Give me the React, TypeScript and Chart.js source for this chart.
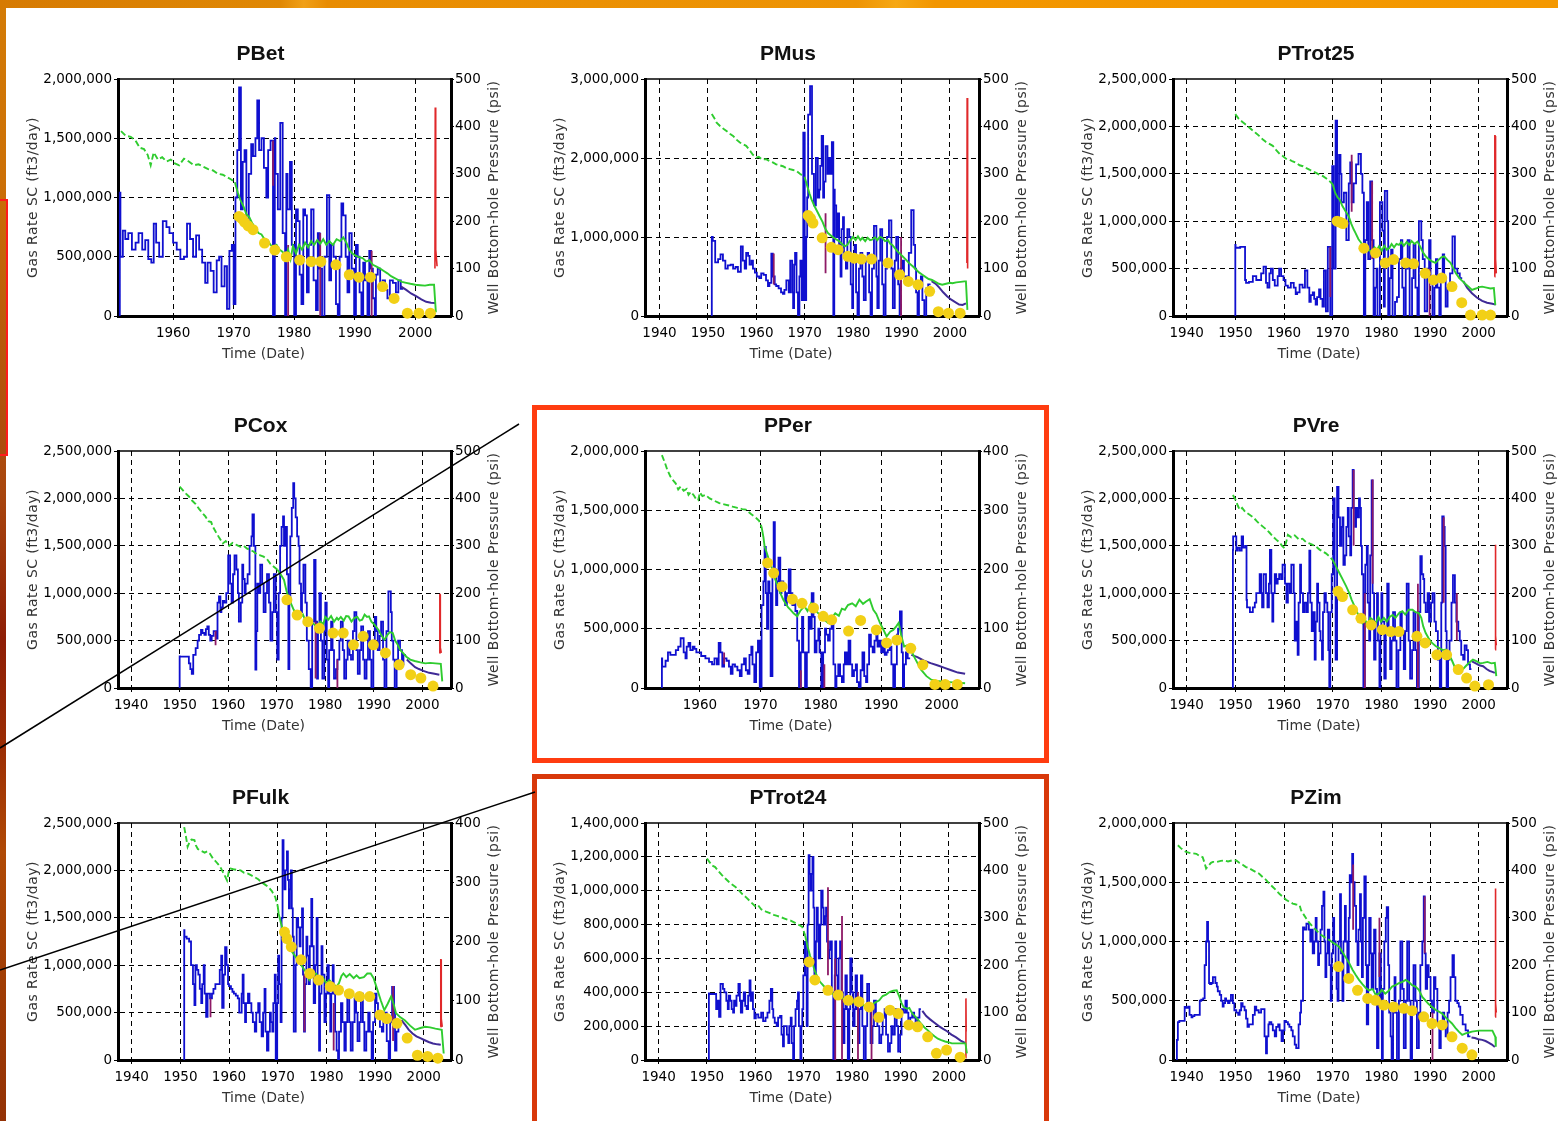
import React, { useEffect, useRef } from 'react';
import { Chart, registerables } from 'chart.js';

Chart.register(...registerables);
Chart.defaults.font.family = "'DejaVu Sans', sans-serif";

type Pt = [number, number];
type Spike = [number, number, number]; // year, low, high (thousand ft3/day)

// ---------- tick labels ----------
const X_TICKS = [1940, 1950, 1960, 1970, 1980, 1990, 2000];

// ---------- data (gas rates in thousand ft3/day, pressures in psi) ----------
const PBET_GAS: Pt[] = [[1951.2,0],[1951.3,1040],[1951.7,500],[1952.1,720],[1952.6,650],[1953.2,700],[1953.8,560],[1954.3,620],[1954.9,700],[1955.4,560],[1955.9,640],[1956.4,480],[1956.8,450],[1957.2,780],[1957.7,620],[1958.3,500],[1958.9,800],[1959.4,750],[1960.0,700],[1960.6,620],[1961.2,560],[1961.8,480],[1962.3,500],[1962.8,780],[1963.3,650],[1963.8,500],[1964.3,680],[1964.8,560],[1965.3,450],[1965.7,280],[1966.2,450],[1966.7,380],[1967.2,200],[1967.6,470],[1968.0,500],[1968.5,250],[1968.9,420],[1969.3,60],[1969.7,550],[1970.0,600],[1970.3,100],[1970.6,1000],[1970.9,1400],[1971.2,1930],[1971.5,900],[1971.8,1300],[1972.1,1400],[1972.5,800],[1972.9,1200],[1973.2,1450],[1973.6,1350],[1973.9,1500],[1974.2,1820],[1974.6,1400],[1975.0,1500],[1975.4,1250],[1975.7,1000],[1976.1,1400],[1976.5,1480],[1976.8,0],[1976.9,1500],[1977.3,1200],[1977.7,900],[1978.1,1630],[1978.5,700],[1978.7,0],[1978.9,1200],[1979.3,900],[1979.6,1300],[1980.0,600],[1980.3,0],[1980.6,900],[1980.9,800],[1981.2,350],[1981.5,100],[1981.8,900],[1982.1,850],[1982.4,200],[1982.8,600],[1983.2,900],[1983.6,300],[1983.9,50],[1984.2,700],[1984.6,400],[1985.0,0],[1985.4,500],[1985.8,1020],[1986.1,300],[1986.5,600],[1986.9,500],[1987.2,100],[1987.5,0],[1987.8,500],[1988.1,950],[1988.5,850],[1988.8,500],[1989.1,200],[1989.5,700],[1989.9,400],[1990.2,0],[1990.5,600],[1990.8,500],[1991.1,200],[1991.4,0],[1991.7,450],[1992.1,300],[1992.4,0],[1992.7,550],[1993.0,400],[1993.3,150],[1993.5,0],[1993.8,350],[1994.2,400],[1994.6,250],[1995.0,300],[1995.4,220],[1995.8,150],[1996.3,300],[1996.8,280],[1997.2,200],[1997.6,300],[1998.0,230]];
const PBET_TAIL: Pt[] = [[1997.6,250],[1998.5,220],[1999.3,190],[2000.2,165],[2001.0,140],[2001.8,120],[2002.6,112],[2003.3,110]];
const PBET_BHP: Pt[] = [[1951.4,390],[1952.2,380],[1953.0,378],[1953.8,370],[1954.5,355],[1955.2,352],[1955.8,340],[1956.3,318],[1956.8,345],[1957.5,330],[1958.2,335],[1958.9,326],[1959.6,330],[1960.3,322],[1961.0,318],[1961.8,332],[1962.6,326],[1963.4,318],[1964.2,320],[1965.0,315],[1965.8,310],[1966.6,307],[1967.4,300],[1968.2,298],[1968.9,293],[1969.6,288],[1970.2,282],[1970.7,260],[1971.1,245],[1971.6,232],[1972.1,215],[1972.6,208],[1973.1,195],[1973.6,185],[1974.1,175],[1974.6,172],[1975.1,162],[1975.6,160],[1976.1,150],[1976.6,145],[1977.1,150],[1977.6,140],[1978.1,135],[1978.6,125],[1979.0,140],[1979.4,120],[1979.8,148],[1980.3,132],[1980.8,150],[1981.3,140],[1981.8,155],[1982.3,145],[1982.8,158],[1983.3,150],[1983.8,160],[1984.3,152],[1984.8,162],[1985.3,150],[1985.8,158],[1986.4,150],[1987.0,162],[1987.6,158],[1988.1,166],[1988.6,155],[1989.1,140],[1989.6,132],[1990.1,128],[1990.7,124],[1991.3,122],[1991.9,115],[1992.4,118],[1993.0,108],[1993.6,104],[1994.2,100],[1994.8,95],[1995.4,90],[1996.0,84],[1996.6,80],[1997.2,76],[1997.8,72],[1998.5,70],[1999.2,68],[2000.0,66],[2000.8,65],[2001.6,64],[2002.4,66],[2003.1,66],[2003.4,8]];
const PBET_MEAS: Pt[] = [[1970.9,210],[1971.4,205],[1971.8,198],[1972.4,190],[1973.2,182],[1975.1,154],[1976.8,139],[1978.7,125],[1980.9,118],[1982.8,115],[1984.4,115],[1986.9,108],[1989.1,87],[1990.7,82],[1992.6,82],[1994.6,62],[1996.5,37],[1998.7,6],[2000.6,6],[2002.5,6]];
const PBET_RED: Pt[] = [[2003.25,100],[2003.3,440],[2003.35,440],[2003.4,140],[2003.6,105]];
const PBET_SPIKES: Spike[] = [[1976.5,1100,1480],[1979.0,0,600],[1984.3,0,700],[1992.8,0,550]];

const PMUS_GAS: Pt[] = [[1950.8,0],[1951.0,1000],[1951.5,950],[1952.1,680],[1952.6,720],[1953.1,780],[1953.6,700],[1954.1,600],[1954.7,640],[1955.2,650],[1955.7,600],[1956.2,620],[1956.8,560],[1957.2,880],[1957.6,700],[1957.9,600],[1958.3,800],[1958.6,760],[1959.0,650],[1959.3,700],[1959.7,600],[1960.1,550],[1960.6,500],[1961.0,480],[1961.5,540],[1962.0,520],[1962.4,450],[1962.7,380],[1963.1,420],[1963.4,790],[1963.8,500],[1964.1,400],[1964.6,380],[1965.1,350],[1965.5,300],[1965.8,280],[1966.2,330],[1966.7,450],[1967.0,300],[1967.4,700],[1967.6,300],[1967.8,100],[1968.0,650],[1968.3,800],[1968.6,300],[1968.9,0],[1969.1,500],[1969.4,700],[1969.7,200],[1970.0,2320],[1970.3,200],[1970.5,1000],[1970.7,1500],[1971.1,2550],[1971.5,2910],[1971.9,1800],[1972.3,1400],[1972.7,2000],[1973.0,1500],[1973.2,1600],[1973.5,1900],[1973.8,2280],[1974.0,1500],[1974.3,1700],[1974.7,2150],[1975.0,1800],[1975.3,2000],[1975.6,1800],[1975.9,2200],[1976.1,0],[1976.2,1600],[1976.5,1400],[1976.8,1000],[1977.1,1300],[1977.4,900],[1977.6,500],[1977.9,1100],[1978.1,1250],[1978.5,800],[1978.8,600],[1979.2,1100],[1979.5,1000],[1979.8,400],[1980.0,100],[1980.3,700],[1980.6,900],[1980.9,300],[1981.2,0],[1981.5,600],[1981.9,800],[1982.2,500],[1982.6,200],[1983.0,700],[1983.3,800],[1983.6,300],[1983.9,0],[1984.3,600],[1984.8,1140],[1985.0,500],[1985.3,100],[1985.6,700],[1986.0,1100],[1986.3,400],[1986.7,0],[1987.0,600],[1987.4,1000],[1987.9,1210],[1988.2,600],[1988.6,100],[1988.9,700],[1989.3,1000],[1989.6,400],[1989.8,0],[1990.2,600],[1990.5,700],[1991.0,500],[1991.5,500],[1992.0,800],[1992.5,1340],[1992.8,900],[1993.0,600],[1993.3,300],[1993.6,0],[1994.0,400],[1994.3,500],[1994.7,200],[1995.1,0],[1995.5,350],[1996.0,400]];
const PMUS_TAIL: Pt[] = [[1996.2,440],[1997.0,410],[1997.8,360],[1998.6,300],[1999.4,250],[2000.2,210],[2001.0,180],[2001.9,145],[2002.6,140],[2003.3,160]];
const PMUS_BHP: Pt[] = [[1950.8,426],[1951.3,418],[1951.8,408],[1952.5,401],[1953.2,395],[1953.9,390],[1954.6,384],[1955.2,380],[1955.9,372],[1956.6,366],[1957.3,362],[1957.9,359],[1958.6,350],[1959.3,340],[1960.0,334],[1960.5,336],[1961.2,330],[1962.0,331],[1962.7,327],[1963.4,324],[1964.1,320],[1964.8,318],[1965.5,316],[1966.2,312],[1966.9,310],[1967.6,308],[1968.3,306],[1969.0,300],[1969.6,296],[1970.0,292],[1970.5,275],[1971.0,258],[1971.4,246],[1972.0,232],[1972.5,222],[1973.1,210],[1973.7,198],[1974.2,185],[1974.8,175],[1975.4,170],[1976.0,165],[1976.6,161],[1977.1,158],[1977.7,152],[1978.3,147],[1978.8,150],[1979.3,158],[1980.0,167],[1980.5,160],[1981.0,168],[1981.5,160],[1981.9,165],[1982.5,158],[1983.0,165],[1983.5,160],[1983.9,161],[1984.5,166],[1985.0,160],[1985.5,167],[1986.0,165],[1986.6,158],[1987.2,160],[1987.7,152],[1988.1,150],[1988.7,142],[1989.3,135],[1989.8,130],[1990.2,126],[1990.8,120],[1991.5,112],[1992.3,105],[1993.0,98],[1993.6,92],[1994.3,87],[1995.0,82],[1995.6,78],[1996.3,76],[1997.0,72],[1997.7,68],[1998.4,66],[1999.2,68],[2000.0,70],[2000.5,69],[2001.3,71],[2002.2,72],[2003.0,73],[2003.3,73],[2003.6,13]];
const PMUS_MEAS: Pt[] = [[1970.7,212],[1971.2,206],[1971.7,196],[1973.6,165],[1975.5,145],[1976.9,140],[1978.9,126],[1980.2,122],[1981.7,120],[1983.8,120],[1987.2,112],[1989.6,87],[1991.4,73],[1993.4,66],[1995.8,52],[1997.6,9],[1999.7,6],[2002.1,6]];
const PMUS_RED: Pt[] = [[2003.5,112],[2003.55,460],[2003.6,112],[2003.7,100]];
const PMUS_SPIKES: Spike[] = [[1963.6,400,790],[1974.3,540,1300],[1989.9,0,1000]];

const PTROT25_GAS: Pt[] = [[1950.0,0],[1950.05,750],[1951.0,720],[1952.0,730],[1952.2,380],[1952.8,350],[1953.6,360],[1954.3,420],[1954.8,380],[1955.3,380],[1955.8,450],[1956.3,520],[1956.6,350],[1957.0,300],[1957.3,450],[1957.7,500],[1958.1,380],[1958.7,320],[1959.0,420],[1959.4,500],[1959.9,420],[1960.3,380],[1960.8,320],[1961.4,300],[1962.0,350],[1962.4,300],[1962.7,230],[1963.2,250],[1963.8,330],[1964.3,300],[1964.8,480],[1965.2,300],[1965.5,150],[1965.9,220],[1966.2,250],[1966.5,180],[1966.8,120],[1967.2,200],[1967.5,280],[1967.9,180],[1968.2,100],[1968.6,480],[1969.0,50],[1969.5,730],[1969.9,0],[1970.2,1580],[1970.6,500],[1970.9,2060],[1971.3,1000],[1971.6,1700],[1971.8,1500],[1972.3,1200],[1972.8,1300],[1973.3,800],[1973.6,1400],[1973.9,1620],[1974.3,1200],[1974.8,1400],[1975.3,1600],[1975.8,1710],[1976.1,1500],[1976.4,1300],[1976.7,0],[1977.0,800],[1977.3,1200],[1977.7,600],[1978.1,1420],[1978.4,800],[1978.7,0],[1979.0,300],[1979.2,500],[1979.7,0],[1980.2,1200],[1980.5,900],[1980.7,100],[1981.2,1320],[1981.4,1000],[1981.7,0],[1982.0,400],[1982.3,700],[1982.8,0],[1983.2,150],[1983.6,200],[1984.0,600],[1984.3,800],[1984.6,300],[1985.0,0],[1985.4,500],[1985.8,800],[1986.3,0],[1986.6,400],[1987.0,750],[1987.4,300],[1987.7,0],[1988.2,1000],[1988.5,800],[1988.9,600],[1989.4,50],[1989.8,500],[1990.1,800],[1990.5,400],[1990.9,0],[1991.2,300],[1991.5,600],[1991.9,300],[1992.2,0],[1992.6,400],[1992.9,650],[1993.2,400],[1993.6,100],[1994.1,300],[1994.6,450],[1995.1,840],[1995.6,500],[1996.1,450],[1996.6,400]];
const PTROT25_TAIL: Pt[] = [[1996.8,370],[1997.6,300],[1998.6,240],[1999.6,195],[2000.7,160],[2001.7,140],[2002.8,130],[2003.5,120]];
const PTROT25_BHP: Pt[] = [[1950.0,426],[1950.7,416],[1951.4,410],[1952.0,405],[1952.8,398],[1953.5,392],[1954.2,386],[1954.9,380],[1955.6,373],[1956.3,367],[1957.0,363],[1957.7,359],[1958.4,350],[1959.1,342],[1959.8,337],[1960.4,332],[1961.1,330],[1961.8,326],[1962.5,323],[1963.2,318],[1963.9,316],[1964.6,312],[1965.2,309],[1965.9,305],[1966.6,302],[1967.3,298],[1968.0,295],[1968.7,290],[1969.4,284],[1970.0,278],[1970.5,260],[1971.0,250],[1971.4,246],[1972.0,232],[1972.7,220],[1973.3,210],[1973.8,195],[1974.3,183],[1974.7,175],[1975.3,162],[1975.8,155],[1976.4,147],[1977.0,140],[1977.6,138],[1978.1,136],[1978.6,145],[1979.1,140],[1979.5,147],[1980.1,138],[1980.6,148],[1981.1,140],[1981.6,143],[1982.1,152],[1982.6,145],[1983.1,152],[1983.6,150],[1984.1,156],[1984.6,148],[1985.2,156],[1985.7,150],[1986.2,158],[1986.8,152],[1987.4,157],[1987.9,148],[1988.5,135],[1989.1,126],[1989.7,120],[1990.4,115],[1991.1,112],[1991.7,118],[1992.3,124],[1992.9,126],[1993.6,118],[1994.2,112],[1994.8,100],[1995.3,90],[1996.0,80],[1996.6,74],[1997.2,68],[1997.9,62],[1998.6,55],[1999.4,58],[2000.1,61],[2000.7,62],[2001.6,60],[2002.4,58],[2003.1,59],[2003.4,23]];
const PTROT25_MEAS: Pt[] = [[1970.9,200],[1971.5,198],[1972.1,195],[1976.4,143],[1978.8,133],[1980.8,112],[1982.5,119],[1985.0,112],[1986.6,110],[1989.0,90],[1990.7,76],[1992.4,80],[1994.5,62],[1996.5,28],[1998.3,2],[2000.7,2],[2002.4,2]];
const PTROT25_RED: Pt[] = [[2003.25,83],[2003.3,380],[2003.35,380],[2003.45,120],[2003.6,90]];
const PTROT25_SPIKES: Spike[] = [[1969.5,200,730],[1973.9,1100,1700],[1978.1,600,1420],[1989.9,0,500]];

const PCOX_GAS: Pt[] = [[1950.0,0],[1950.05,334],[1951.0,330],[1951.9,330],[1952.2,260],[1952.5,200],[1952.8,150],[1953.3,350],[1953.7,420],[1954.0,500],[1954.4,560],[1954.7,614],[1955.1,580],[1955.4,560],[1955.7,620],[1956.0,650],[1956.3,560],[1956.6,500],[1957.0,550],[1957.5,600],[1957.8,520],[1958.1,900],[1958.4,966],[1958.6,800],[1958.9,850],[1959.2,920],[1959.6,900],[1960.0,1000],[1960.4,1400],[1960.7,1100],[1961.0,900],[1961.3,1200],[1961.7,1400],[1962.0,1250],[1962.2,1000],[1962.6,700],[1962.9,900],[1963.1,1300],[1963.4,1150],[1963.6,1000],[1964.0,1100],[1964.4,1200],[1964.8,1500],[1965.0,1600],[1965.3,1830],[1965.6,1500],[1965.8,193],[1966.0,600],[1966.3,1100],[1966.6,1000],[1967.0,1300],[1967.3,1100],[1967.7,800],[1968.0,1000],[1968.4,1200],[1968.7,900],[1969.1,500],[1969.4,800],[1969.8,1200],[1970.1,800],[1970.4,300],[1970.7,1000],[1971.0,1500],[1971.3,1700],[1971.5,1810],[1971.8,1500],[1972.1,1700],[1972.4,1200],[1972.6,200],[1972.8,900],[1973.1,1600],[1973.4,1900],[1973.6,2160],[1973.9,2000],[1974.2,1800],[1974.5,1600],[1974.7,1500],[1975.0,1100],[1975.2,800],[1975.5,1000],[1975.9,1300],[1976.2,900],[1976.6,500],[1977.0,200],[1977.3,0],[1977.7,700],[1978.0,1350],[1978.3,700],[1978.5,100],[1978.8,600],[1979.1,1000],[1979.4,500],[1979.8,100],[1980.0,600],[1980.3,900],[1980.6,300],[1980.8,0],[1981.2,400],[1981.5,700],[1981.8,400],[1982.2,100],[1982.5,200],[1982.9,300],[1983.2,500],[1983.6,700],[1983.9,400],[1984.3,100],[1984.6,300],[1985.0,500],[1985.3,350],[1985.7,300],[1986.0,600],[1986.4,800],[1986.7,400],[1987.1,150],[1987.4,400],[1987.8,650],[1988.1,300],[1988.5,100],[1988.8,300],[1989.2,600],[1989.5,300],[1989.9,0],[1990.2,500],[1990.5,750],[1990.8,600],[1991.2,400],[1991.5,550],[1991.9,700],[1992.2,300],[1992.6,0],[1993.0,600],[1993.5,1020],[1993.7,800],[1994.0,500],[1994.3,300],[1994.7,0],[1995.0,300],[1995.4,500],[1995.8,400],[1996.1,250],[1996.6,350]];
const PCOX_TAIL: Pt[] = [[1996.8,300],[1997.6,260],[1998.5,220],[1999.3,200],[2000.2,180],[2001.4,160],[2002.5,150],[2003.5,140]];
const PCOX_BHP: Pt[] = [[1950.0,425],[1950.6,418],[1951.3,410],[1951.9,404],[1952.6,395],[1953.3,388],[1954.0,378],[1954.7,369],[1955.3,362],[1955.9,352],[1956.5,350],[1956.8,341],[1957.4,330],[1958.1,318],[1958.9,305],[1959.5,310],[1960.2,300],[1960.9,306],[1961.7,302],[1962.5,298],[1963.2,300],[1963.9,294],[1964.5,291],[1965.2,288],[1965.9,282],[1966.6,280],[1967.3,277],[1968.0,272],[1968.7,262],[1969.4,256],[1970.1,250],[1970.8,240],[1971.5,228],[1972.0,205],[1972.5,190],[1972.9,179],[1973.5,165],[1974.2,151],[1974.8,148],[1975.4,155],[1976.0,140],[1976.4,144],[1977.0,138],[1977.6,135],[1978.2,130],[1978.5,132],[1979.0,140],[1979.6,135],[1980.0,150],[1980.6,144],[1981.2,152],[1981.8,140],[1982.4,148],[1982.7,144],[1983.2,150],[1983.8,142],[1984.3,152],[1984.8,151],[1985.4,140],[1986.0,148],[1986.6,150],[1987.1,142],[1987.6,144],[1988.1,155],[1988.6,150],[1989.0,151],[1989.5,140],[1990.0,135],[1990.4,130],[1991.0,122],[1991.6,110],[1992.2,102],[1992.8,112],[1993.3,118],[1993.9,116],[1994.4,100],[1995.0,90],[1995.4,81],[1996.0,74],[1996.7,66],[1997.5,60],[1998.4,57],[1999.6,54],[2000.6,52],[2001.6,53],[2002.7,52],[2003.8,51],[2004.1,14]];
const PCOX_MEAS: Pt[] = [[1972.1,186],[1974.2,154],[1976.4,140],[1978.8,126],[1981.6,116],[1983.7,116],[1985.8,91],[1987.8,109],[1989.9,91],[1992.4,74],[1995.2,49],[1997.6,28],[1999.7,21],[2002.2,4]];
const PCOX_RED: Pt[] = [[2003.5,74],[2003.6,197],[2003.65,197],[2003.7,85],[2003.9,74]];
const PCOX_SPIKES: Spike[] = [[1957.4,450,600],[1978.0,100,700],[1982.5,0,300]];

const PPER_GAS: Pt[] = [[1953.7,0],[1953.75,250],[1954.3,180],[1954.7,230],[1955.1,300],[1955.6,280],[1956.0,280],[1956.4,320],[1956.8,350],[1957.3,420],[1957.6,300],[1957.8,250],[1958.1,350],[1958.4,380],[1958.8,320],[1959.1,350],[1959.4,330],[1959.7,300],[1960.2,300],[1960.9,270],[1961.5,250],[1962.0,220],[1962.4,200],[1962.8,250],[1963.1,200],[1963.4,380],[1963.7,300],[1964.0,180],[1964.4,250],[1964.8,230],[1965.1,180],[1965.4,120],[1965.8,200],[1966.2,180],[1966.6,150],[1966.9,100],[1967.3,200],[1967.6,250],[1967.9,150],[1968.2,120],[1968.5,280],[1968.7,350],[1969.0,200],[1969.3,50],[1969.6,300],[1969.9,400],[1970.2,0],[1970.5,700],[1970.7,900],[1970.9,1190],[1971.1,800],[1971.3,500],[1971.5,900],[1971.7,800],[1972.0,100],[1972.2,1000],[1972.4,1400],[1972.6,1000],[1972.8,700],[1973.0,900],[1973.3,1100],[1973.5,800],[1973.8,900],[1974.1,850],[1974.4,700],[1974.7,800],[1975.0,1000],[1975.3,800],[1975.5,700],[1975.8,750],[1976.1,650],[1976.4,400],[1976.7,0],[1976.9,300],[1977.1,600],[1977.4,300],[1977.7,0],[1978.0,300],[1978.3,600],[1978.5,500],[1978.8,800],[1979.0,600],[1979.3,300],[1979.6,400],[1979.8,500],[1980.1,300],[1980.4,0],[1980.7,300],[1980.9,500],[1981.2,450],[1981.5,400],[1981.8,500],[1982.1,600],[1982.4,200],[1982.6,0],[1982.9,100],[1983.2,200],[1983.5,100],[1983.8,50],[1984.0,200],[1984.3,300],[1984.6,200],[1984.9,400],[1985.2,200],[1985.5,100],[1985.8,150],[1986.0,200],[1986.3,50],[1986.6,0],[1986.9,150],[1987.2,300],[1987.5,100],[1987.7,50],[1988.0,200],[1988.3,450],[1988.6,350],[1988.9,300],[1989.2,400],[1989.4,450],[1989.7,350],[1990.0,400],[1990.3,300],[1990.6,350],[1990.9,280],[1991.1,300],[1991.4,320],[1991.7,350],[1992.0,200],[1992.3,0],[1992.6,200],[1992.8,450],[1993.1,500],[1993.4,646],[1993.6,300],[1993.8,0],[1994.1,200],[1994.4,300],[1994.8,250]];
const PPER_TAIL: Pt[] = [[1995.0,280],[1996.0,260],[1997.1,230],[1998.2,210],[1999.4,190],[2000.5,170],[2001.6,150],[2002.7,130],[2003.9,120]];
const PPER_BHP: Pt[] = [[1953.7,393],[1954.2,380],[1954.6,368],[1955.1,357],[1955.6,350],[1956.0,345],[1956.4,335],[1956.8,340],[1957.3,333],[1957.8,336],[1958.1,326],[1958.5,331],[1959.0,325],[1959.4,318],[1959.7,317],[1960.0,330],[1960.4,324],[1960.9,326],[1961.6,320],[1962.4,316],[1963.2,312],[1964.0,310],[1964.8,308],[1965.4,306],[1966.2,304],[1967.0,302],[1967.6,301],[1968.4,294],[1969.3,287],[1969.8,282],[1970.2,272],[1970.5,255],[1970.7,239],[1971.0,230],[1971.3,220],[1971.6,211],[1972.0,200],[1972.3,188],[1972.7,177],[1973.0,168],[1973.4,158],[1973.8,149],[1974.2,142],[1974.6,136],[1975.0,132],[1975.5,126],[1976.1,121],[1976.6,130],[1977.3,138],[1977.8,130],[1978.4,143],[1978.9,135],[1979.4,128],[1980.1,121],[1980.6,115],[1981.2,110],[1981.8,118],[1982.4,126],[1983.0,122],[1983.5,134],[1984.0,132],[1984.5,140],[1985.2,143],[1985.8,138],[1986.4,149],[1987.0,142],[1987.5,146],[1988.1,150],[1988.7,132],[1989.2,125],[1989.8,110],[1990.3,100],[1990.9,87],[1991.5,95],[1992.0,98],[1992.5,104],[1992.9,110],[1993.3,90],[1993.8,70],[1994.3,72],[1994.9,65],[1995.6,50],[1996.6,31],[1997.5,20],[1998.3,14],[1999.2,12],[2000.0,11],[2001.3,10],[2002.6,9],[2003.9,8]];
const PPER_MEAS: Pt[] = [[1971.2,211],[1972.2,194],[1973.6,171],[1975.3,150],[1976.9,143],[1978.8,135],[1980.4,121],[1981.8,115],[1984.6,96],[1986.6,114],[1989.2,98],[1990.9,76],[1992.6,81],[1994.9,67],[1996.9,39],[1998.9,6],[2000.6,6],[2002.6,6]];
const PPER_RED: Pt[] = [];
const PPER_SPIKES: Spike[] = [[1964.0,200,300],[1976.7,0,150],[1980.6,0,200]];

const PVRE_GAS: Pt[] = [[1949.5,0],[1949.55,1457],[1950.2,1600],[1950.5,1450],[1950.9,1480],[1951.3,1450],[1951.6,1600],[1952.0,1480],[1952.3,1500],[1952.4,930],[1953.0,850],[1953.6,800],[1954.0,850],[1954.3,900],[1955.0,1000],[1955.3,1200],[1955.5,1000],[1955.8,850],[1956.3,1200],[1956.6,1000],[1956.9,850],[1957.1,1100],[1957.4,1457],[1957.6,1000],[1957.8,700],[1958.1,1000],[1958.4,1200],[1958.7,1100],[1959.0,1150],[1959.4,1200],[1959.7,1150],[1960.2,1300],[1960.5,1100],[1960.8,900],[1961.2,1100],[1961.5,1000],[1962.0,1300],[1962.2,1000],[1962.5,500],[1962.8,700],[1963.0,350],[1963.3,900],[1963.5,1300],[1963.9,1000],[1964.2,800],[1964.6,900],[1964.9,800],[1965.2,1000],[1965.4,1450],[1965.7,900],[1966.0,600],[1966.3,800],[1966.5,300],[1966.8,700],[1967.0,1100],[1967.3,900],[1967.5,600],[1967.8,500],[1968.0,300],[1968.3,800],[1968.6,1000],[1968.9,900],[1969.1,800],[1969.3,400],[1969.5,0],[1969.8,800],[1970.1,1200],[1970.4,2000],[1970.6,1000],[1970.9,300],[1971.2,2120],[1971.5,1800],[1971.8,1500],[1972.0,1700],[1972.2,1800],[1972.5,1300],[1972.8,1400],[1973.1,1700],[1973.3,1900],[1973.6,1600],[1973.8,1400],[1974.1,1900],[1974.3,2300],[1974.6,1900],[1974.8,1700],[1975.1,1900],[1975.4,1800],[1975.6,2000],[1975.8,1900],[1976.0,1500],[1976.3,1200],[1976.6,0],[1976.7,1000],[1977.0,1300],[1977.2,1500],[1977.5,900],[1977.7,500],[1978.0,1400],[1978.2,2190],[1978.5,1000],[1978.8,300],[1979.1,700],[1979.3,1000],[1979.6,500],[1979.8,0],[1980.0,600],[1980.2,1000],[1980.6,700],[1980.9,100],[1981.2,600],[1981.5,1100],[1981.8,600],[1982.1,200],[1982.4,500],[1982.8,800],[1983.1,500],[1983.5,0],[1983.9,400],[1984.2,800],[1984.6,600],[1984.9,200],[1985.2,600],[1985.6,1100],[1985.9,500],[1986.3,100],[1986.6,400],[1987.0,800],[1987.3,400],[1987.7,0],[1988.0,800],[1988.3,1390],[1988.6,1200],[1988.8,1150],[1989.1,900],[1989.5,800],[1989.8,1000],[1990.2,700],[1990.5,900],[1990.9,1000],[1991.2,700],[1991.6,600],[1992.0,300],[1992.3,0],[1992.5,900],[1992.8,1810],[1993.0,1700],[1993.2,1500],[1993.4,600],[1993.7,0],[1994.0,300],[1994.4,500],[1994.7,900],[1995.1,1190],[1995.4,900],[1995.8,700],[1996.1,600],[1996.4,500],[1996.8,350],[1997.1,300],[1997.5,450],[1997.8,400],[1998.2,250],[1998.5,200]];
const PVRE_TAIL: Pt[] = [[1998.6,280],[1999.4,260],[2000.1,240],[2000.9,230],[2001.6,200],[2002.2,180],[2002.8,170],[2003.3,160]];
const PVRE_BHP: Pt[] = [[1949.5,407],[1950.0,398],[1950.5,385],[1950.9,376],[1951.4,380],[1952.0,372],[1953.0,365],[1953.7,360],[1954.4,352],[1955.0,346],[1955.6,341],[1956.3,335],[1957.0,328],[1957.7,320],[1958.4,313],[1959.0,308],[1959.6,300],[1960.1,295],[1960.5,310],[1960.8,323],[1961.5,318],[1962.2,322],[1963.1,313],[1963.8,315],[1964.5,308],[1965.2,305],[1965.9,302],[1966.6,298],[1967.3,292],[1968.0,288],[1968.6,284],[1969.3,278],[1970.0,270],[1970.7,256],[1971.4,242],[1972.1,228],[1972.8,214],[1973.4,200],[1973.9,186],[1974.5,172],[1975.0,160],[1975.6,148],[1976.1,137],[1976.6,145],[1977.2,132],[1977.7,148],[1978.2,144],[1978.8,135],[1979.4,150],[1979.9,140],[1980.5,148],[1981.1,140],[1981.7,150],[1982.3,154],[1982.9,148],[1983.6,158],[1984.3,162],[1984.9,155],[1985.6,165],[1986.4,165],[1987.0,160],[1987.7,158],[1988.2,148],[1988.6,130],[1989.1,116],[1989.7,105],[1990.4,95],[1991.2,88],[1991.9,84],[1992.6,80],[1993.3,81],[1993.9,70],[1994.5,58],[1995.0,46],[1995.8,42],[1996.7,39],[1997.5,48],[1998.2,55],[1998.8,60],[1999.6,56],[2000.3,52],[2000.9,53],[2001.8,55],[2002.6,52],[2003.3,53],[2003.6,25]];
const PVRE_MEAS: Pt[] = [[1971.1,204],[1972.0,193],[1974.1,165],[1975.8,147],[1977.9,133],[1980.2,123],[1981.9,119],[1983.6,119],[1987.3,109],[1989.0,95],[1991.4,70],[1993.4,70],[1995.8,39],[1997.5,21],[1999.2,4],[2002.0,7]];
const PVRE_RED: Pt[] = [[2003.35,81],[2003.4,302],[2003.45,302],[2003.5,110],[2003.6,90]];
const PVRE_SPIKES: Spike[] = [[1974.3,1500,2300],[1978.2,1100,2200],[1976.6,0,1000],[1992.8,900,1800],[1987.5,0,1100],[1995.5,500,1000]];

const PFULK_GAS: Pt[] = [[1950.8,0],[1950.85,1370],[1951.3,1300],[1951.8,1280],[1952.2,1250],[1952.6,1000],[1952.9,800],[1953.1,579],[1953.4,1000],[1953.7,950],[1954.0,900],[1954.3,750],[1954.5,600],[1954.8,800],[1955.0,1000],[1955.3,700],[1955.6,456],[1956.1,700],[1956.5,650],[1956.8,700],[1957.2,750],[1957.5,800],[1958.1,800],[1958.4,950],[1958.6,1100],[1958.9,550],[1959.2,900],[1959.5,1190],[1959.8,1000],[1960.0,800],[1960.4,780],[1960.7,750],[1961.0,720],[1961.4,700],[1961.8,680],[1962.1,650],[1962.6,500],[1962.8,700],[1963.0,900],[1963.3,600],[1963.5,400],[1963.9,600],[1964.2,700],[1964.6,600],[1964.9,500],[1965.3,400],[1965.6,300],[1966.0,500],[1966.3,600],[1966.7,400],[1967.0,250],[1967.3,500],[1967.5,750],[1967.8,300],[1968.1,100],[1968.4,300],[1968.6,500],[1968.9,400],[1969.1,300],[1969.4,600],[1969.6,900],[1969.9,0],[1970.1,600],[1970.3,1100],[1970.6,800],[1970.8,400],[1971.0,1500],[1971.2,2320],[1971.4,2000],[1971.6,1800],[1971.9,2000],[1972.1,2200],[1972.3,1900],[1972.5,1600],[1972.7,1800],[1972.9,2000],[1973.1,1600],[1973.3,1300],[1973.7,300],[1973.9,1000],[1974.2,1500],[1974.5,1400],[1974.7,1200],[1975.0,1400],[1975.2,1600],[1975.4,900],[1975.6,300],[1975.9,800],[1976.1,1300],[1976.4,1100],[1976.6,800],[1976.9,1200],[1977.1,1700],[1977.4,1200],[1977.7,600],[1978.0,1000],[1978.2,1500],[1978.5,800],[1978.7,100],[1979.0,700],[1979.2,1200],[1979.6,900],[1979.9,400],[1980.2,700],[1980.5,1000],[1980.8,700],[1981.0,300],[1981.3,700],[1981.5,1000],[1981.8,700],[1982.1,300],[1982.4,100],[1982.6,0],[1983.0,300],[1983.3,600],[1983.7,400],[1984.0,100],[1984.3,400],[1984.7,650],[1985.0,400],[1985.4,100],[1985.8,400],[1986.1,650],[1986.4,500],[1986.8,200],[1987.1,400],[1987.5,700],[1987.8,400],[1988.2,100],[1988.6,300],[1988.9,500],[1989.3,300],[1989.6,0],[1990.0,400],[1990.3,700],[1990.6,600],[1991.0,450],[1991.4,350],[1991.7,300],[1992.1,400],[1992.4,500],[1992.8,200],[1993.1,0],[1993.5,400],[1993.9,772],[1994.1,500],[1994.4,100],[1994.8,300],[1995.2,400]];
const PFULK_TAIL: Pt[] = [[1995.4,420],[1996.2,370],[1996.9,320],[1997.7,280],[1998.5,250],[1999.3,230],[2000.1,211],[2001.0,190],[2001.9,175],[2002.8,165],[2003.5,160]];
const PFULK_BHP: Pt[] = [[1950.8,393],[1951.2,375],[1951.5,360],[1951.9,368],[1952.3,372],[1952.9,371],[1953.2,362],[1953.6,356],[1954.0,354],[1954.5,352],[1955.0,350],[1955.5,352],[1956.1,348],[1956.7,340],[1957.3,335],[1957.8,330],[1958.2,326],[1958.7,318],[1959.2,310],[1959.6,303],[1960.0,320],[1960.3,323],[1960.9,322],[1961.6,321],[1962.4,320],[1963.1,316],[1963.8,315],[1964.5,312],[1965.2,309],[1966.0,305],[1966.7,300],[1967.4,296],[1968.1,292],[1968.8,285],[1969.5,275],[1970.0,260],[1970.2,247],[1970.7,230],[1971.3,213],[1971.8,200],[1972.3,191],[1973.0,182],[1973.7,174],[1974.4,165],[1975.1,157],[1975.8,148],[1976.5,135],[1977.2,145],[1977.9,146],[1978.5,135],[1979.2,140],[1980.0,129],[1980.6,135],[1981.3,128],[1982.1,124],[1982.6,130],[1983.1,142],[1983.5,146],[1984.1,140],[1984.8,145],[1985.6,138],[1986.2,143],[1986.8,138],[1987.7,140],[1988.4,146],[1989.1,146],[1989.7,138],[1990.1,128],[1990.5,118],[1991.2,100],[1991.9,84],[1992.6,95],[1993.3,107],[1993.8,95],[1994.3,79],[1995.2,72],[1996.1,67],[1997.2,58],[1998.2,51],[1999.3,54],[2000.3,56],[2001.3,55],[2002.4,53],[2003.7,51],[2004.1,11]];
const PFULK_MEAS: Pt[] = [[1971.4,216],[1971.9,205],[1972.8,191],[1974.8,169],[1976.6,146],[1978.4,135],[1980.8,124],[1982.5,118],[1984.7,112],[1986.8,107],[1988.9,107],[1991.0,76],[1992.4,70],[1994.5,62],[1996.6,37],[1998.7,8],[2000.8,6],[2002.9,3]];
const PFULK_RED: Pt[] = [[2003.45,56],[2003.5,169],[2003.55,169],[2003.6,70],[2003.8,56]];
const PFULK_SPIKES: Spike[] = [[1956.2,450,650],[1975.5,300,900],[1981.5,100,600],[1993.7,200,780]];

const PTROT24_GAS: Pt[] = [[1950.4,0],[1950.45,393],[1951.2,390],[1951.9,390],[1952.2,300],[1952.5,350],[1952.8,255],[1953.3,450],[1953.6,420],[1954.0,400],[1954.3,350],[1954.5,300],[1954.8,380],[1955.1,350],[1955.4,300],[1955.6,280],[1955.9,350],[1956.1,320],[1956.5,380],[1956.8,450],[1957.0,350],[1957.3,280],[1957.6,350],[1957.9,400],[1958.2,320],[1958.5,300],[1958.8,380],[1959.0,470],[1959.2,350],[1959.5,400],[1959.8,300],[1960.1,246],[1960.6,270],[1961.2,250],[1961.6,280],[1962.1,230],[1962.5,250],[1962.9,280],[1963.2,350],[1963.5,420],[1963.7,300],[1964.0,250],[1964.4,220],[1964.7,200],[1965.1,250],[1965.4,260],[1965.7,150],[1965.9,80],[1966.2,200],[1966.5,200],[1966.8,150],[1967.0,100],[1967.3,200],[1967.5,250],[1967.8,100],[1968.0,0],[1968.3,200],[1968.6,300],[1968.8,350],[1969.0,400],[1969.3,200],[1969.5,0],[1969.7,200],[1969.9,300],[1970.2,500],[1970.4,698],[1970.6,500],[1970.8,200],[1971.0,800],[1971.2,1210],[1971.4,1100],[1971.6,1000],[1971.8,1100],[1972.0,1200],[1972.2,900],[1972.5,500],[1972.7,700],[1972.9,900],[1973.1,800],[1973.4,600],[1973.6,800],[1973.9,1000],[1974.1,900],[1974.4,800],[1974.6,850],[1974.8,900],[1975.1,700],[1975.3,600],[1975.5,650],[1975.8,700],[1976.1,400],[1976.4,0],[1976.5,500],[1976.7,700],[1977.0,500],[1977.2,400],[1977.5,600],[1977.8,700],[1978.1,400],[1978.4,100],[1978.6,300],[1978.9,500],[1979.1,300],[1979.4,0],[1979.6,300],[1979.9,600],[1980.2,400],[1980.5,200],[1980.7,300],[1981.0,500],[1981.2,300],[1981.5,100],[1981.8,300],[1982.1,500],[1982.4,200],[1982.8,0],[1983.1,200],[1983.5,450],[1983.8,300],[1984.2,100],[1984.5,200],[1984.9,350],[1985.2,250],[1985.6,200],[1986.0,100],[1986.3,150],[1986.7,250],[1987.0,300],[1987.4,150],[1987.8,50],[1988.1,100],[1988.4,200],[1988.8,150],[1989.2,300],[1989.5,200],[1989.9,50],[1990.2,150],[1990.6,300],[1991.0,280],[1991.3,350],[1991.6,280],[1992.0,200],[1992.4,250],[1992.8,280],[1993.1,250],[1993.5,200],[1993.9,250],[1994.2,300]];
const PTROT24_TAIL: Pt[] = [[1994.5,290],[1995.3,260],[1996.1,240],[1997.0,220],[1997.9,200],[1998.7,185],[1999.6,170],[2000.5,150],[2001.4,135],[2002.4,115],[2003.4,100]];
const PTROT24_BHP: Pt[] = [[1950.0,425],[1950.5,418],[1951.1,410],[1951.7,407],[1952.4,398],[1953.1,390],[1953.8,383],[1954.5,376],[1955.2,370],[1955.9,365],[1956.6,358],[1957.3,350],[1958.0,344],[1958.7,337],[1959.4,330],[1960.1,323],[1960.6,326],[1961.2,318],[1962.2,313],[1963.0,310],[1963.8,306],[1964.5,304],[1965.1,302],[1965.9,299],[1966.6,296],[1967.3,294],[1967.9,291],[1968.6,287],[1969.2,284],[1969.7,281],[1970.3,262],[1970.8,239],[1971.3,220],[1971.8,205],[1972.2,190],[1972.7,178],[1973.1,168],[1973.6,162],[1974.3,154],[1975.0,147],[1975.6,142],[1976.3,138],[1977.1,133],[1977.8,131],[1978.5,128],[1979.2,126],[1979.9,125],[1980.6,120],[1981.4,119],[1982.1,116],[1982.8,114],[1983.5,112],[1984.2,118],[1984.9,122],[1985.6,126],[1986.3,135],[1987.0,138],[1987.8,144],[1988.5,146],[1989.2,147],[1989.7,135],[1990.2,120],[1990.6,112],[1991.3,108],[1991.8,110],[1992.4,98],[1993.0,92],[1993.6,85],[1994.2,77],[1995.0,68],[1995.7,62],[1996.3,56],[1997.0,50],[1997.7,45],[1998.4,42],[1999.2,39],[2000.0,37],[2000.6,35],[2001.6,35],[2002.7,35],[2003.4,35],[2003.7,14]];
const PTROT24_MEAS: Pt[] = [[1971.1,207],[1972.3,169],[1975.0,147],[1977.1,137],[1979.2,126],[1981.4,123],[1983.5,112],[1985.5,90],[1987.8,105],[1989.5,98],[1991.7,74],[1993.5,70],[1995.6,49],[1997.4,14],[1999.5,21],[2002.3,6]];
const PTROT24_RED: Pt[] = [[2003.45,5],[2003.5,130],[2003.55,60]];
const PTROT24_SPIKES: Spike[] = [[1976.5,0,600],[1977.9,0,850],[1981.2,0,400],[1984.0,0,300],[1975.0,500,1020]];

const PZIM_GAS: Pt[] = [[1938.0,0],[1938.2,169],[1938.5,320],[1939.0,330],[1939.6,330],[1939.9,449],[1940.3,440],[1940.6,450],[1941.0,380],[1941.2,360],[1941.6,370],[1942.0,380],[1942.7,380],[1943.0,500],[1943.4,510],[1943.7,520],[1944.0,800],[1944.2,1000],[1944.4,1166],[1944.6,1000],[1944.8,650],[1945.1,640],[1945.4,650],[1945.7,700],[1945.9,700],[1946.2,650],[1946.4,620],[1946.8,580],[1947.1,550],[1947.4,500],[1947.6,450],[1947.9,480],[1948.1,520],[1948.5,500],[1948.8,480],[1949.1,500],[1949.5,550],[1949.8,480],[1950.2,420],[1950.6,400],[1950.9,380],[1951.2,420],[1951.5,480],[1951.9,450],[1952.2,420],[1952.5,350],[1952.8,280],[1953.2,300],[1953.6,300],[1954.0,380],[1954.3,450],[1954.8,420],[1955.3,400],[1955.7,430],[1956.0,430],[1956.3,200],[1956.5,56],[1956.8,200],[1957.0,300],[1957.4,320],[1957.7,300],[1958.1,250],[1958.4,200],[1958.8,280],[1959.1,300],[1959.5,250],[1959.8,160],[1960.1,250],[1960.4,330],[1960.8,320],[1961.1,300],[1961.5,280],[1961.8,250],[1962.2,200],[1962.5,130],[1962.8,100],[1963.0,100],[1963.3,300],[1963.5,400],[1963.9,500],[1964.2,1120],[1964.6,1100],[1965.1,1150],[1965.4,1100],[1965.6,1000],[1965.9,1100],[1966.2,900],[1966.5,1000],[1966.7,1200],[1967.0,1000],[1967.2,800],[1967.5,900],[1967.8,1100],[1968.1,1300],[1968.3,1420],[1968.5,1000],[1968.7,700],[1969.0,900],[1969.3,1100],[1969.6,800],[1969.8,500],[1970.1,900],[1970.3,1200],[1970.6,1000],[1970.8,800],[1971.0,600],[1971.2,500],[1971.5,1000],[1971.7,1400],[1972.0,900],[1972.2,500],[1972.5,1000],[1972.7,1300],[1973.0,1000],[1973.3,700],[1973.5,1200],[1973.7,1560],[1974.0,1500],[1974.2,1740],[1974.5,1500],[1974.8,1300],[1975.1,1000],[1975.3,800],[1975.6,1100],[1975.8,1400],[1976.0,1000],[1976.2,700],[1976.5,1200],[1976.8,1550],[1977.0,800],[1977.3,300],[1977.5,800],[1977.8,1200],[1978.0,900],[1978.3,600],[1978.5,900],[1978.8,1100],[1979.1,600],[1979.4,100],[1979.6,500],[1979.9,900],[1980.1,500],[1980.3,0],[1980.6,600],[1980.9,1000],[1981.1,1200],[1981.4,1290],[1981.6,800],[1981.9,400],[1982.1,200],[1982.4,0],[1982.7,400],[1982.9,700],[1983.2,400],[1983.6,0],[1983.9,500],[1984.3,1000],[1984.6,600],[1985.0,100],[1985.3,500],[1985.7,1000],[1986.0,500],[1986.3,0],[1986.6,400],[1987.0,800],[1987.3,500],[1987.7,100],[1988.0,400],[1988.4,800],[1988.7,1000],[1988.9,1380],[1989.1,900],[1989.4,600],[1989.7,800],[1990.1,700],[1990.4,500],[1990.8,400],[1991.1,700],[1991.5,600],[1991.9,300],[1992.2,100],[1992.6,300],[1992.9,400],[1993.2,300],[1993.6,200],[1993.9,400],[1994.2,500],[1994.6,700],[1994.9,885],[1995.2,700],[1995.6,500],[1995.9,480],[1996.2,450],[1996.7,380],[1997.3,300],[1997.8,250],[1998.3,200]];
const PZIM_TAIL: Pt[] = [[1998.5,190],[1999.2,185],[1999.9,175],[2000.7,170],[2001.4,160],[2002.1,145],[2002.7,130],[2003.3,110]];
const PZIM_BHP: Pt[] = [[1938.2,453],[1938.8,447],[1939.4,442],[1939.9,439],[1940.6,437],[1941.3,436],[1942.0,435],[1942.7,430],[1943.3,428],[1943.7,415],[1944.0,404],[1944.5,410],[1945.0,416],[1945.4,418],[1946.2,418],[1947.0,420],[1947.8,421],[1948.5,419],[1949.3,421],[1950.2,421],[1950.8,416],[1951.5,412],[1952.2,407],[1952.9,404],[1953.6,400],[1954.3,396],[1954.9,393],[1955.6,386],[1956.3,380],[1957.0,372],[1957.7,365],[1958.4,358],[1959.1,350],[1959.8,344],[1960.4,338],[1961.1,334],[1961.8,330],[1962.5,328],[1963.2,327],[1963.5,316],[1963.9,309],[1964.6,298],[1965.3,288],[1966.0,280],[1966.6,274],[1967.2,267],[1967.9,262],[1968.6,257],[1969.3,253],[1970.0,248],[1970.6,244],[1971.3,239],[1972.0,228],[1972.7,216],[1973.4,204],[1974.1,190],[1974.7,180],[1975.4,169],[1976.1,160],[1976.8,152],[1977.5,147],[1978.2,150],[1978.8,138],[1979.5,140],[1980.1,148],[1980.8,140],[1981.6,147],[1982.2,155],[1982.9,158],[1983.6,162],[1984.3,165],[1985.0,169],[1985.7,164],[1986.3,158],[1987.0,155],[1987.7,148],[1988.4,133],[1989.1,125],[1989.7,118],[1990.4,112],[1991.1,106],[1991.8,102],[1992.5,98],[1993.2,90],[1993.9,83],[1994.5,77],[1995.2,68],[1995.9,60],[1996.6,53],[1997.3,56],[1998.0,58],[1998.6,60],[1999.3,61],[2000.0,62],[2000.7,62],[2001.4,62],[2002.1,62],[2002.8,62],[2003.4,49],[2003.5,28]];
const PZIM_MEAS: Pt[] = [[1971.2,197],[1973.3,172],[1975.1,147],[1977.2,130],[1978.8,126],[1980.5,116],[1982.5,112],[1984.6,109],[1986.3,104],[1988.7,91],[1990.4,77],[1992.5,74],[1994.5,49],[1996.6,25],[1998.6,11]];
const PZIM_RED: Pt[] = [[2003.35,91],[2003.4,362],[2003.45,362],[2003.5,120],[2003.6,100]];
const PZIM_SPIKES: Spike[] = [[1974.2,1100,1650],[1979.6,700,1200],[1988.9,900,1380],[1990.5,0,400]];

// ---------- panel layout ----------
type PanelCfg = {
  title: string; L: number; T: number; R: number; B: number;
  xMin: number; xMax: number; yMax: number; yStep: number; y1Max: number;
  gas: Pt[]; tail: Pt[]; bhp: Pt[]; meas: Pt[]; red: Pt[]; spikes: Spike[];
};

const PANELS: PanelCfg[] = [
  { title: 'PBet', L: 118, T: 79, R: 451, B: 316, xMin: 1950.9, xMax: 2005.9, yMax: 2000000, yStep: 500000, y1Max: 500, gas: PBET_GAS, tail: PBET_TAIL, bhp: PBET_BHP, meas: PBET_MEAS, red: PBET_RED, spikes: PBET_SPIKES },
  { title: 'PMus', L: 645, T: 79, R: 979, B: 316, xMin: 1937.0, xMax: 2006.0, yMax: 3000000, yStep: 1000000, y1Max: 500, gas: PMUS_GAS, tail: PMUS_TAIL, bhp: PMUS_BHP, meas: PMUS_MEAS, red: PMUS_RED, spikes: PMUS_SPIKES },
  { title: 'PTrot25', L: 1173, T: 79, R: 1507, B: 316, xMin: 1937.2, xMax: 2005.8, yMax: 2500000, yStep: 500000, y1Max: 500, gas: PTROT25_GAS, tail: PTROT25_TAIL, bhp: PTROT25_BHP, meas: PTROT25_MEAS, red: PTROT25_RED, spikes: PTROT25_SPIKES },
  { title: 'PCox', L: 118, T: 451, R: 451, B: 688, xMin: 1937.3, xMax: 2005.9, yMax: 2500000, yStep: 500000, y1Max: 500, gas: PCOX_GAS, tail: PCOX_TAIL, bhp: PCOX_BHP, meas: PCOX_MEAS, red: PCOX_RED, spikes: PCOX_SPIKES },
  { title: 'PPer', L: 645, T: 451, R: 979, B: 688, xMin: 1950.9, xMax: 2006.2, yMax: 2000000, yStep: 500000, y1Max: 400, gas: PPER_GAS, tail: PPER_TAIL, bhp: PPER_BHP, meas: PPER_MEAS, red: PPER_RED, spikes: PPER_SPIKES },
  { title: 'PVre', L: 1173, T: 451, R: 1507, B: 688, xMin: 1937.2, xMax: 2005.8, yMax: 2500000, yStep: 500000, y1Max: 500, gas: PVRE_GAS, tail: PVRE_TAIL, bhp: PVRE_BHP, meas: PVRE_MEAS, red: PVRE_RED, spikes: PVRE_SPIKES },
  { title: 'PFulk', L: 118, T: 823, R: 451, B: 1060, xMin: 1937.2, xMax: 2005.6, yMax: 2500000, yStep: 500000, y1Max: 400, gas: PFULK_GAS, tail: PFULK_TAIL, bhp: PFULK_BHP, meas: PFULK_MEAS, red: PFULK_RED, spikes: PFULK_SPIKES },
  { title: 'PTrot24', L: 645, T: 823, R: 979, B: 1060, xMin: 1937.2, xMax: 2006.2, yMax: 1400000, yStep: 200000, y1Max: 500, gas: PTROT24_GAS, tail: PTROT24_TAIL, bhp: PTROT24_BHP, meas: PTROT24_MEAS, red: PTROT24_RED, spikes: PTROT24_SPIKES },
  { title: 'PZim', L: 1173, T: 823, R: 1507, B: 1060, xMin: 1937.2, xMax: 2005.8, yMax: 2000000, yStep: 500000, y1Max: 500, gas: PZIM_GAS, tail: PZIM_TAIL, bhp: PZIM_BHP, meas: PZIM_MEAS, red: PZIM_RED, spikes: PZIM_SPIKES },
];

const PAD_L = 112, PAD_R = 64, PAD_T = 45, PAD_B = 58;
const BLUE = '#0f0fcf', TAIL = '#3f2a96', GREEN = '#2fcc2f', YELLOW = '#f2d016', RED = '#e0282a', PURPLE = '#8e1a66';
const TICK_FONT = { family: "'DejaVu Sans', sans-serif", size: 13.5 };

const toXY = (arr: Pt[], k = 1) => arr.map(([x, y]) => ({ x, y: y * k }));
const spikesXY = (arr: Spike[], k = 1) => {
  const out: { x: number; y: number | null }[] = [];
  arr.forEach(([x, lo, hi]) => { out.push({ x, y: lo * k }, { x, y: hi * k }, { x, y: null }); });
  return out;
};

const axisTitles = {
  id: 'axisTitles',
  afterDraw(chart: any, _args: any, opts: any) {
    const { ctx, chartArea: a } = chart;
    ctx.save();
    ctx.strokeStyle = '#000';
    ctx.lineWidth = 1.5;
    ctx.beginPath();
    ctx.moveTo(a.left, a.top);
    ctx.lineTo(a.right, a.top);
    ctx.stroke();
    ctx.fillStyle = '#333';
    ctx.font = "14px 'DejaVu Sans', sans-serif";
    try { (ctx as any).letterSpacing = '0.45px'; } catch (e) { /* ignore */ }
    ctx.textAlign = 'center';
    ctx.textBaseline = 'middle';
    const cy = (a.top + a.bottom) / 2;
    ctx.save();
    ctx.translate(a.left - 85, cy);
    ctx.rotate(-Math.PI / 2);
    ctx.fillText(opts.left, 0, 0);
    ctx.restore();
    ctx.save();
    ctx.translate(a.right + 43, cy);
    ctx.rotate(-Math.PI / 2);
    ctx.fillText(opts.right, 0, 0);
    ctx.restore();
    (ctx as any).letterSpacing = '0px';
    ctx.fillText(opts.bottom, (a.left + a.right) / 2 - 21, a.bottom + 38);
    ctx.restore();
  },
};

function buildConfig(p: PanelCfg): any {
  return {
    type: 'line',
    data: {
      datasets: [
        { data: toXY(p.meas), yAxisID: 'y1', showLine: false, pointRadius: 5.5, pointBackgroundColor: YELLOW, pointBorderWidth: 0, order: 0, clip: 8 },
        { data: toXY(p.bhp), yAxisID: 'y1', borderColor: GREEN, borderWidth: 1.9, pointRadius: 0, order: 1,
          segment: { borderDash: (c: any) => (c.p0.parsed.x < 1970 ? [6, 3] : undefined) } },
        { data: toXY(p.red), yAxisID: 'y1', borderColor: RED, borderWidth: 1.6, pointRadius: 0, order: 2 },
        { data: toXY(p.tail, 1000), yAxisID: 'y', borderColor: TAIL, borderWidth: 2, pointRadius: 0, order: 3 },
        { data: spikesXY(p.spikes, 1000), yAxisID: 'y', borderColor: PURPLE, borderWidth: 1.8, pointRadius: 0, spanGaps: false, order: 4 },
        { data: toXY(p.gas, 1000), yAxisID: 'y', borderColor: BLUE, borderWidth: 1.8, pointRadius: 0, stepped: 'after', order: 5 },
      ],
    },
    options: {
      animation: false,
      responsive: false,
      events: [],
      layout: { padding: 0 },
      plugins: {
        legend: { display: false },
        tooltip: { enabled: false },
        title: {
          display: true, text: p.title, color: '#111',
          font: { family: "'Liberation Sans', Arial, sans-serif", size: 21, weight: 'bold', lineHeight: 1 },
          padding: { top: 10, bottom: 14 },
        },
        axisTitles: { left: 'Gas Rate SC (ft3/day)', right: 'Well Bottom-hole Pressure (psi)', bottom: 'Time (Date)' },
      },
      scales: {
        x: {
          type: 'linear', min: p.xMin, max: p.xMax,
          afterBuildTicks: (s: any) => { s.ticks = X_TICKS.filter((v) => v > s.min && v < s.max).map((value) => ({ value })); },
          afterFit: (s: any) => { s.height = PAD_B; },
          grid: { color: '#000', lineWidth: 1, tickLength: 4, tickColor: '#000' },
          border: { color: '#000', width: 3, dash: [5, 4] },
          ticks: { color: '#000', font: TICK_FONT, padding: 5, maxRotation: 0, autoSkip: false, callback: (v: any) => String(v) },
        },
        y: {
          position: 'left', min: 0, max: p.yMax,
          afterFit: (s: any) => { s.width = PAD_L; },
          grid: {
            color: (c: any) => (c.tick && (c.tick.value === 0 || c.tick.value === p.yMax) ? 'rgba(0,0,0,0)' : '#000'),
            lineWidth: 1, tickLength: 4, tickColor: '#000',
          },
          border: { color: '#000', width: 3, dash: [5, 4] },
          ticks: { stepSize: p.yStep, color: '#000', font: TICK_FONT, padding: 2, callback: (v: any) => Number(v).toLocaleString('en-US') },
        },
        y1: {
          position: 'right', min: 0, max: p.y1Max,
          afterFit: (s: any) => { s.width = PAD_R; },
          grid: { drawOnChartArea: false, color: '#000', tickLength: 3, tickColor: '#000' },
          border: { color: '#000', width: 3 },
          ticks: { stepSize: 100, color: '#000', font: TICK_FONT, padding: 1, callback: (v: any) => String(v) },
        },
      },
    },
    plugins: [axisTitles],
  };
}

function Panel({ p }: { p: PanelCfg }) {
  const ref = useRef<HTMLCanvasElement>(null);
  const w = p.R - p.L + PAD_L + PAD_R;
  const h = p.B - p.T + PAD_T + PAD_B;
  useEffect(() => {
    if (!ref.current) return;
    const chart = new Chart(ref.current, buildConfig(p));
    return () => chart.destroy();
  }, [p]);
  return (
    <canvas
      ref={ref}
      width={w}
      height={h}
      style={{ position: 'absolute', left: p.L - PAD_L, top: p.T - PAD_T, width: w, height: h }}
    />
  );
}

export default function App() {
  return (
    <div
      style={{
        position: 'fixed', left: 0, top: 0, width: 1558, height: 1121, overflow: 'hidden',
        background: 'linear-gradient(180deg,#d47c06 0%,#cc7006 16%,#b85a0a 30%,#a8460e 44%,#8e1e06 57%,#9a2c04 66%,#b04a06 76%,#a03c04 88%,#943206 100%)',
      }}
    >
      <div style={{ position: 'absolute', left: 0, top: 0, width: 1558, height: 8,
        background: 'linear-gradient(90deg,#d67a02 0%,#e08804 18%,#f0a018 19.5%,#e88c02 21%,#ee9404 55%,#f6a814 57.5%,#f29600 60%,#f49800 100%)' }} />
      <div style={{ position: 'absolute', left: 6, top: 8, right: 0, bottom: 0, background: '#ffffff' }} />
      <div style={{ position: 'absolute', left: -5, top: 199, width: 9, height: 253, border: '2px solid #ff1c1c' }} />
      {PANELS.map((p) => (
        <Panel key={p.title} p={p} />
      ))}
      <div style={{ position: 'absolute', left: 532, top: 405, width: 517, height: 358, boxSizing: 'border-box', border: '5px solid #ff3c10' }} />
      <div style={{ position: 'absolute', left: 532, top: 774, width: 517, height: 360, boxSizing: 'border-box', border: '5px solid #d8380a' }} />
      <svg width={1558} height={1121} style={{ position: 'absolute', left: 0, top: 0, pointerEvents: 'none' }}>
        <line x1={0} y1={748} x2={519} y2={424} stroke="#000" strokeWidth={1.5} />
        <line x1={0} y1={970} x2={535} y2={792} stroke="#000" strokeWidth={1.5} />
      </svg>
    </div>
  );
}
